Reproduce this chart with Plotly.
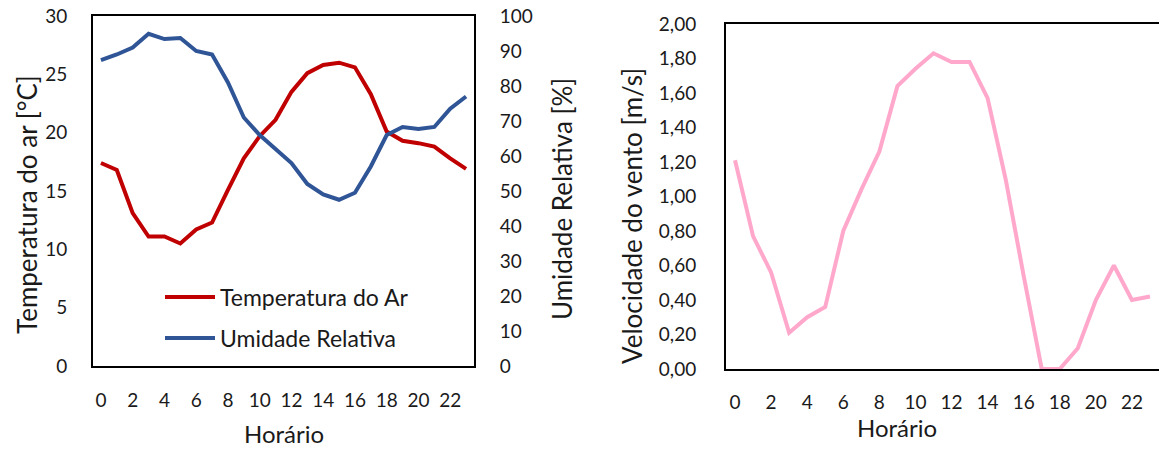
import plotly.graph_objects as go

horas = list(range(24))
temperatura = [17.4, 16.8, 13.1, 11.1, 11.1, 10.5, 11.7, 12.3, 15.1, 17.8, 19.7, 21.1,
               23.5, 25.1, 25.8, 26.0, 25.6, 23.3, 20.1, 19.3, 19.1, 18.8, 17.8, 16.9]
umidade = [87.4, 89.0, 91.0, 94.9, 93.4, 93.7, 90.0, 89.0, 81.0, 71.0, 66.0, 62.0,
           58.0, 52.0, 49.0, 47.5, 49.5, 57.0, 66.0, 68.3, 67.7, 68.3, 73.5, 77.0]
vento = [1.21, 0.77, 0.56, 0.21, 0.30, 0.36, 0.80, 1.04, 1.26, 1.64, 1.74, 1.83,
         1.78, 1.78, 1.57, 1.10, 0.54, 0.0, 0.0, 0.12, 0.40, 0.60, 0.40, 0.42]
xticks = list(range(0, 24, 2))

FONT = "Lato"
W, H = 1159, 450
RED = "#C00000"
BLUE = "#2F5597"
PINK = "#FFA8CC"
TXT = "#1a1a1a"

fig = go.Figure()
fig.add_trace(go.Scatter(x=horas, y=temperatura, mode="lines", name="Temperatura do Ar",
                         line=dict(color=RED, width=4), xaxis="x", yaxis="y", legend="legend"))
fig.add_trace(go.Scatter(x=horas, y=umidade, mode="lines", name="Umidade Relativa",
                         line=dict(color=BLUE, width=4), xaxis="x", yaxis="y2", legend="legend2"))
fig.add_trace(go.Scatter(x=horas, y=vento, mode="lines", name="Velocidade do vento",
                         line=dict(color=PINK, width=4), xaxis="x2", yaxis="y3", showlegend=False))

tickfont = dict(family=FONT, size=19, color=TXT)

def px(x):
    return x / W

def py(y):
    return 1 - y / H

fig.update_layout(
    width=W, height=H, margin=dict(l=0, r=0, t=0, b=0, pad=0, autoexpand=False),
    autosize=False,
    paper_bgcolor="white", plot_bgcolor="white",
    separators=",.",
    font=dict(family=FONT, size=17, color=TXT),
    xaxis=dict(domain=[px(93), px(474)], anchor="y", range=[-0.5, 23.5],
               tickvals=xticks, showgrid=False, zeroline=False, showline=True,
               linecolor="black", linewidth=2, mirror=True, ticks="",
               tickfont=tickfont, ticklabelstandoff=16, automargin=False),
    yaxis=dict(domain=[py(366), py(16)], anchor="x", range=[0, 30], dtick=5,
               showgrid=False, zeroline=False, showline=True, linecolor="black",
               linewidth=2, ticks="", tickfont=tickfont, ticklabelstandoff=20,
               automargin=False),
    yaxis2=dict(overlaying="y", side="right", anchor="x", range=[0, 100], dtick=10,
                showgrid=False, zeroline=False, showline=True, linecolor="black",
                linewidth=2, ticks="", tickfont=tickfont, ticklabelstandoff=20,
                automargin=False),
    xaxis2=dict(domain=[px(726), 1.0], anchor="y3", range=[-0.5, 23.5],
                tickvals=xticks, showgrid=False, zeroline=False, showline=True,
                linecolor="black", linewidth=2, mirror=True, ticks="",
                tickfont=tickfont, ticklabelstandoff=15, automargin=False),
    yaxis3=dict(domain=[py(369), py(24)], anchor="x2", range=[0, 2], dtick=0.2,
                tickformat=".2f", showgrid=False, zeroline=False, showline=True,
                linecolor="black", linewidth=2, ticks="", tickfont=tickfont,
                ticklabelstandoff=24, automargin=False),
    legend=dict(x=px(160), y=py(297), xanchor="left", yanchor="middle",
                bgcolor="rgba(0,0,0,0)", font=dict(family=FONT, size=23, color=TXT),
                itemwidth=50),
    legend2=dict(x=px(160), y=py(338), xanchor="left", yanchor="middle",
                 bgcolor="rgba(0,0,0,0)", font=dict(family=FONT, size=23, color=TXT),
                 itemwidth=50),
    showlegend=True,
)

annots = [
    dict(text="Temperatura do ar [°C]", x=px(27), y=py(205), textangle=-90, size=26),
    dict(text="Umidade Relativa [%]", x=px(562), y=py(199), textangle=-90, size=26),
    dict(text="Velocidade do vento [m/s]", x=px(632), y=py(216), textangle=-90, size=26),
    dict(text="Horário", x=px(284), y=py(433), textangle=0, size=24),
    dict(text="Horário", x=px(897), y=py(427), textangle=0, size=24),
]
for a in annots:
    size = a.pop("size")
    fig.add_annotation(xref="paper", yref="paper", showarrow=False,
                       xanchor="center", yanchor="middle",
                       font=dict(family=FONT, size=size, color=TXT), **a)

fig.write_html("out.html")
